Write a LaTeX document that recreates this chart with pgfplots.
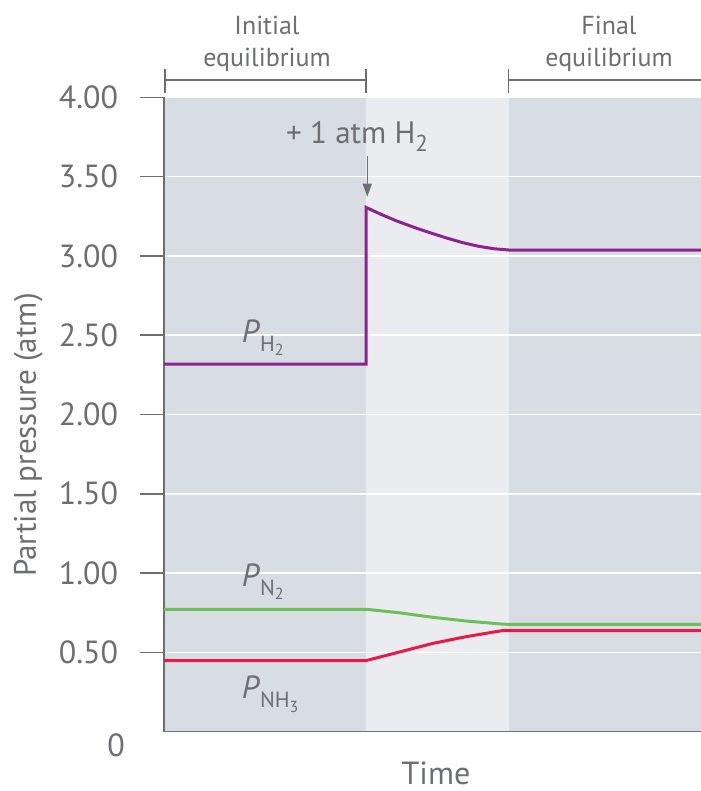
\documentclass[border=0pt]{standalone}
\usepackage{pgfplots}
\pgfplotsset{compat=1.18}
\usetikzlibrary{arrows.meta}
\usepackage{fontspec}
\setmainfont{PT Sans}
\definecolor{txt}{HTML}{6D6E71}
\definecolor{bgdark}{HTML}{D8DCE3}
\definecolor{bglight}{HTML}{EBECEF}
\definecolor{cH}{HTML}{8C2390}
\definecolor{cN}{HTML}{6DBF5A}
\definecolor{cNH}{HTML}{E8194A}
\newcommand{\fs}[1]{\fontsize{#1bp}{#1bp}\selectfont}
\newcommand{\Plab}[2]{{\fs{32}\textit{P}}\raisebox{-9bp}{\fs{22}#1\raisebox{-4bp}{\fs{16}#2}}}
\begin{document}
\begin{tikzpicture}[x=1bp,y=1bp]
\begin{axis}[
  set layers,
  scale only axis,
  width=537bp, height=634.4bp,
  xmin=0, xmax=537, ymin=0, ymax=4,
  axis lines*=left,
  axis line style={txt, line width=1.5bp},
  xtick=\empty,
  ytick={0.5,1,1.5,2,2.5,3,3.5,4},
  yticklabels={},
  ymajorgrids,
  grid style={white, line width=1.5bp},
  tick align=outside,
  major tick length=24bp,
  tick style={txt, line width=1.5bp},
  clip=false,
]
\begin{pgfonlayer}{axis background}
\fill[bgdark] (axis cs:0,0) rectangle (axis cs:202,4);
\fill[bglight] (axis cs:202,0) rectangle (axis cs:345,4);
\fill[bgdark] (axis cs:345,0) rectangle (axis cs:537,4);
\end{pgfonlayer}
\addplot[cN, line width=3bp] coordinates {(0,0.772)(202,0.772)(235,0.750)(269,0.721)(302,0.698)(339,0.678)(345,0.677)(537,0.677)};
\addplot[cNH, line width=3bp] coordinates {(0,0.448)(202,0.448)(269,0.557)(302,0.599)(338,0.637)(537,0.637)};
\addplot[cH, line width=3bp] coordinates {(0,2.317)(202,2.317)(202,3.306)(217,3.262)(232,3.222)(250,3.180)(266,3.146)(283,3.112)(299,3.083)(315,3.060)(330,3.045)(345,3.037)(537,3.037)};
\foreach \v/\l in {0.5/0.50,1/1.00,1.5/1.50,2/2.00,2.5/2.50,3/3.00,3.5/3.50,4/4.00}{
  \edef\temp{\noexpand\node[anchor=east, inner sep=0pt, text=txt, font=\noexpand\fs{32}] at (axis cs:-45.7,\v) {\l};}
  \temp
}
\end{axis}
\begin{scope}[every node/.style={inner sep=0pt, text=txt}]
\node[anchor=base, font=\fs{26}] at (103,696.7) {Initial};
\node[anchor=base, font=\fs{26}] at (103,664.9) {equilibrium};
\node[anchor=base, font=\fs{26}] at (445,696.7) {Final};
\node[anchor=base, font=\fs{26}] at (445,664.9) {equilibrium};
\draw[txt, line width=1.5bp] (1,651.7) -- (202,651.7);
\draw[txt, line width=1.5bp] (1,638.7) -- (1,663);
\draw[txt, line width=1.5bp] (202,638.7) -- (202,663);
\draw[txt, line width=1.5bp] (344.4,651.7) -- (537,651.7);
\draw[txt, line width=1.5bp] (344.4,638.7) -- (344.4,663);
\node[anchor=base west, font=\fs{31}] at (122,588.4) {+ 1 atm H\raisebox{-8bp}{\fs{23}2}};
\draw[txt, line width=1.5bp, -{Triangle[length=13bp,width=9bp]}] (203.3,575.7) -- (203.3,535);
\node[anchor=base west] at (77.7,389) {\Plab{H}{2}};
\node[anchor=base west] at (77.7,145) {\Plab{N}{2}};
\node[anchor=base west] at (77.7,32.7) {\Plab{NH}{3}};
\node[anchor=base, font=\fs{32}] at (272,-53) {Time};
\node[anchor=base east, font=\fs{32}] at (-39,-25) {0};
\node[anchor=base, rotate=90, font=\fs{31}] at (-128,296.7) {Partial pressure (atm)};
\end{scope}
\pgfresetboundingbox
\path[use as bounding box] (-164,-59.3) rectangle (537,731.7);
\end{tikzpicture}
\end{document}
